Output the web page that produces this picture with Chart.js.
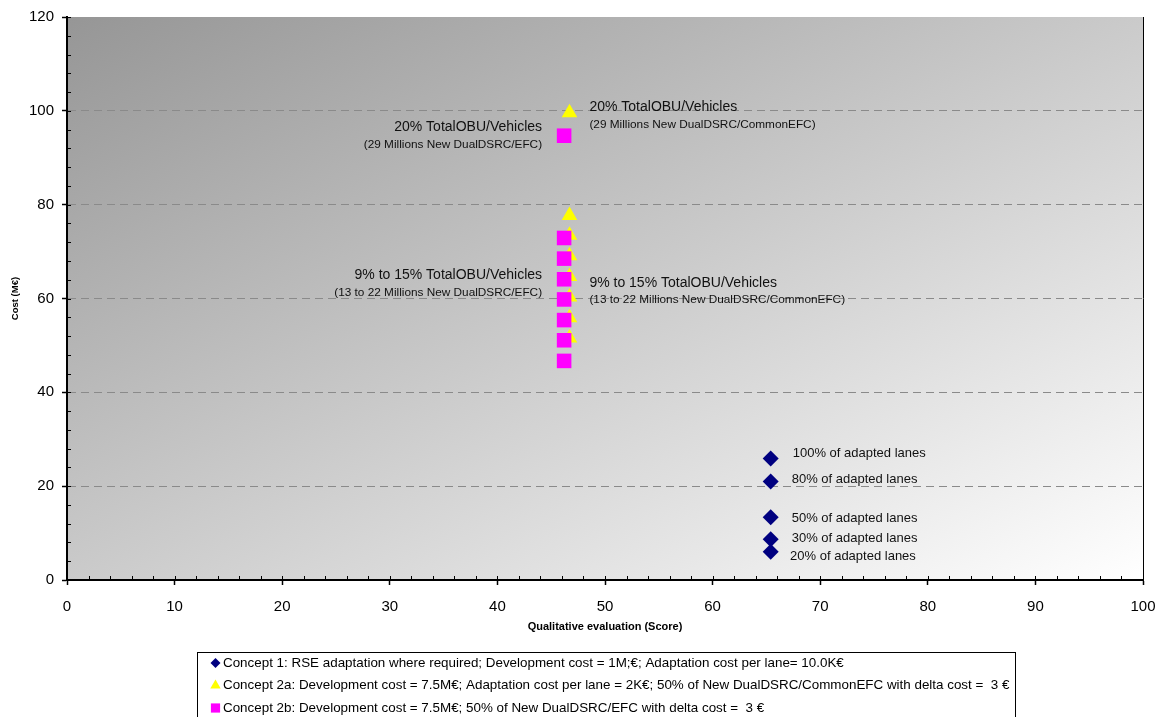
<!DOCTYPE html>
<html>
<head>
<meta charset="utf-8">
<title>Cost vs qualitative evaluation</title>
<script src="https://cdn.jsdelivr.net/npm/chart.js@4.4.1/dist/chart.umd.min.js"></script>
<style>
    html, body { margin: 0; padding: 0; background: #fff; }
    #wrap { width: 1164px; height: 717px; position: relative; }
</style>
</head>
<body>
<div id="wrap"><canvas id="costChart"></canvas></div>
<script>
const ctx = document.getElementById('costChart')

// concept 1 : one point per share of adapted lanes
const concept1Score = [65.4, 65.4, 65.4, 65.4, 65.4]
const concept1Cost = [25.9, 21.0, 13.4, 8.7, 6.0]
const laneLabels = ['100% of adapted lanes', '80% of adapted lanes', '50% of adapted lanes', '30% of adapted lanes', '20% of adapted lanes']

// concept 2a : DualDSRC/CommonEFC
const concept2aScore = [46.7, 46.7, 46.7, 46.7, 46.7, 46.7, 46.7, 46.7]
const concept2aCost = [99.6, 77.7, 73.5, 69.1, 64.7, 60.3, 55.9, 51.6]

// concept 2b : DualDSRC/EFC
const concept2bScore = [46.2, 46.2, 46.2, 46.2, 46.2, 46.2, 46.2, 46.2]
const concept2bCost = [94.7, 72.9, 68.5, 64.1, 59.8, 55.4, 51.1, 46.7]

const seriesNames = [
    'Concept 1: RSE adaptation where required; Development cost = 1M;€; Adaptation cost per lane= 10.0K€',
    'Concept 2a: Development cost = 7.5M€; Adaptation cost per lane = 2K€; 50% of New DualDSRC/CommonEFC with delta cost =  3 €',
    'Concept 2b: Development cost = 7.5M€; 50% of New DualDSRC/EFC with delta cost =  3 €'
]

const xTitle = 'Qualitative evaluation (Score)'
const yTitle = 'Cost (M€)'

// text notes, anchored in data units
const notes = [
    { x: 48.55, y: 100.7, text: '20% TotalOBU/Vehicles', size: 14, align: 'left' },
    { x: 48.55, y: 97.0, text: '(29 Millions New DualDSRC/CommonEFC)', size: 11.8, align: 'left' },
    { x: 44.15, y: 96.5, text: '20% TotalOBU/Vehicles', size: 14, align: 'right' },
    { x: 44.15, y: 92.8, text: '(29 Millions New DualDSRC/EFC)', size: 11.8, align: 'right' },
    { x: 44.15, y: 64.9, text: '9% to 15% TotalOBU/Vehicles', size: 14, align: 'right' },
    { x: 44.15, y: 61.2, text: '(13 to 22 Millions New DualDSRC/EFC)', size: 11.8, align: 'right' },
    { x: 48.55, y: 63.3, text: '9% to 15% TotalOBU/Vehicles', size: 14, align: 'left' },
    { x: 48.55, y: 59.7, text: '(13 to 22 Millions New DualDSRC/CommonEFC)', size: 11.8, align: 'left' }
]
const laneNoteX = [67.45, 67.35, 67.35, 67.35, 67.2]
const laneNoteY = [26.9, 21.45, 13.1, 8.85, 5.1]

const toPoints = (xs, ys) => xs.map((x, i) => ({ x: x, y: ys[i] }))

Chart.defaults.font.family = '"Liberation Sans", Arial, sans-serif'
Chart.defaults.color = '#000'

// plot area: diagonal grey gradient + right border
const plotBackground = {
    id: 'plotBackground',
    beforeDraw(chart) {
        const { ctx, chartArea: a } = chart
        const w = a.right - a.left, h = a.bottom - a.top
        const k = 2 / (1 / (w * w) + 1 / (h * h))
        const g = ctx.createLinearGradient(a.left, a.top, a.left + k / w, a.top + k / h)
        g.addColorStop(0, '#969696')
        g.addColorStop(1, '#ffffff')
        ctx.save()
        ctx.fillStyle = g
        ctx.fillRect(a.left, a.top, w, h)
        ctx.restore()
    },
    afterDraw(chart) {
        const { ctx, chartArea: a } = chart
        ctx.save()
        ctx.strokeStyle = '#000'
        ctx.lineWidth = 1
        ctx.beginPath()
        ctx.moveTo(a.right + 0.5, a.top)
        ctx.lineTo(a.right + 0.5, a.bottom)
        ctx.stroke()
        ctx.restore()
    }
}

// small tick marks pointing into the plot
const innerTicks = {
    id: 'innerTicks',
    afterDraw(chart) {
        const { ctx, chartArea: a, scales } = chart
        ctx.save()
        ctx.strokeStyle = '#000'
        ctx.lineWidth = 1
        ctx.beginPath()
        for (let v = 0; v <= 100; v += 2) {
            const px = Math.round(scales.x.getPixelForValue(v)) + 0.5
            ctx.moveTo(px, a.bottom)
            ctx.lineTo(px, a.bottom - 4)
        }
        for (let v = 0; v <= 120; v += 4) {
            const py = Math.round(scales.y.getPixelForValue(v)) + 0.5
            ctx.moveTo(a.left, py)
            ctx.lineTo(a.left + 4, py)
        }
        ctx.stroke()
        ctx.restore()
    }
}

const textNotes = {
    id: 'textNotes',
    afterDatasetsDraw(chart) {
        const { ctx, scales } = chart
        ctx.save()
        ctx.fillStyle = '#111'
        ctx.textBaseline = 'middle'
        notes.forEach(n => {
            ctx.font = n.size + 'px "Liberation Sans", Arial, sans-serif'
            ctx.textAlign = n.align
            ctx.fillText(n.text, scales.x.getPixelForValue(n.x), scales.y.getPixelForValue(n.y))
        })
        ctx.font = '13px "Liberation Sans", Arial, sans-serif'
        ctx.textAlign = 'left'
        laneLabels.forEach((t, i) => {
            ctx.fillText(t, scales.x.getPixelForValue(laneNoteX[i]), scales.y.getPixelForValue(laneNoteY[i]))
        })
        ctx.restore()
    }
}

// boxed legend under the chart, one row per series
const boxLegend = {
    id: 'boxLegend',
    afterDraw(chart) {
        const { ctx } = chart
        ctx.save()
        ctx.strokeStyle = '#000'
        ctx.lineWidth = 1
        ctx.strokeRect(197.5, 652.5, 818, 90)
        ctx.font = '13.4px "Liberation Sans", Arial, sans-serif'
        ctx.textBaseline = 'middle'
        ctx.textAlign = 'left'
        chart.data.datasets.forEach((ds, i) => {
            const y = 663 + i * 22.5
            ctx.fillStyle = ds.backgroundColor
            ctx.strokeStyle = ds.backgroundColor
            Chart.helpers.drawPoint(ctx, { pointStyle: ds.pointStyle, radius: ds.legendRadius, rotation: 0, borderWidth: 0 }, 215.5, y)
            ctx.fillStyle = '#000'
            ctx.fillText(ds.label, 223, y)
        })
        ctx.restore()
    }
}

new Chart(ctx, {
    type: 'scatter',
    data: {
        datasets: [
            {
                label: seriesNames[0],
                data: toPoints(concept1Score, concept1Cost),
                pointStyle: 'rectRot',
                pointRadius: 8,
                legendRadius: 5,
                backgroundColor: '#000080',
                borderColor: '#000080',
                borderWidth: 0,
                order: 2
            },
            {
                label: seriesNames[1],
                data: toPoints(concept2aScore, concept2aCost),
                pointStyle: 'triangle',
                pointRadius: 9,
                legendRadius: 6,
                backgroundColor: '#ffff00',
                borderColor: '#ffff00',
                borderWidth: 0,
                order: 1
            },
            {
                label: seriesNames[2],
                data: toPoints(concept2bScore, concept2bCost),
                pointStyle: 'rect',
                pointRadius: 10.3,
                legendRadius: 6.5,
                backgroundColor: '#ff00ff',
                borderColor: '#ff00ff',
                borderWidth: 0,
                order: 0
            }
        ]
    },
    options: {
        responsive: true,
        maintainAspectRatio: false,
        animation: false,
        devicePixelRatio: 1,
        layout: { padding: { top: 15, right: 21, bottom: 77, left: 0 } },
        plugins: {
            legend: { display: false },
            tooltip: { enabled: false }
        },
        scales: {
            x: {
                type: 'linear',
                min: 0,
                max: 100,
                ticks: { stepSize: 10, padding: 13, color: '#000', font: { size: 15 } },
                grid: { drawOnChartArea: false, tickLength: 5, tickColor: '#000', tickWidth: 1.5 },
                border: { color: '#000', width: 2 },
                title: { display: true, text: xTitle, color: '#000', font: { size: 11, weight: 'bold' }, padding: { top: 0, bottom: 6 } },
                afterFit: (scale) => {
                    scale.height = 60
                    scale.paddingRight = 21
                }
            },
            y: {
                min: 0,
                max: 120,
                ticks: { stepSize: 20, padding: 8, color: '#000', font: { size: 15 } },
                grid: {
                    color: (c) => (c.tick && c.tick.value > 0 && c.tick.value < 120) ? '#8a8a8a' : 'rgba(0,0,0,0)',
                    lineWidth: 1,
                    tickLength: 5,
                    tickColor: '#000',
                    tickWidth: 1.5,
                    tickBorderDash: []
                },
                border: { color: '#000', width: 2, dash: [8, 5] },
                title: { display: true, text: yTitle, color: '#000', font: { size: 9.5, weight: 'bold' }, padding: { top: 10, bottom: 0 } },
                afterFit: (scale) => { scale.width = 67 }
            }
        }
    },
    plugins: [plotBackground, innerTicks, textNotes, boxLegend]
})
</script>
</body>
</html>
